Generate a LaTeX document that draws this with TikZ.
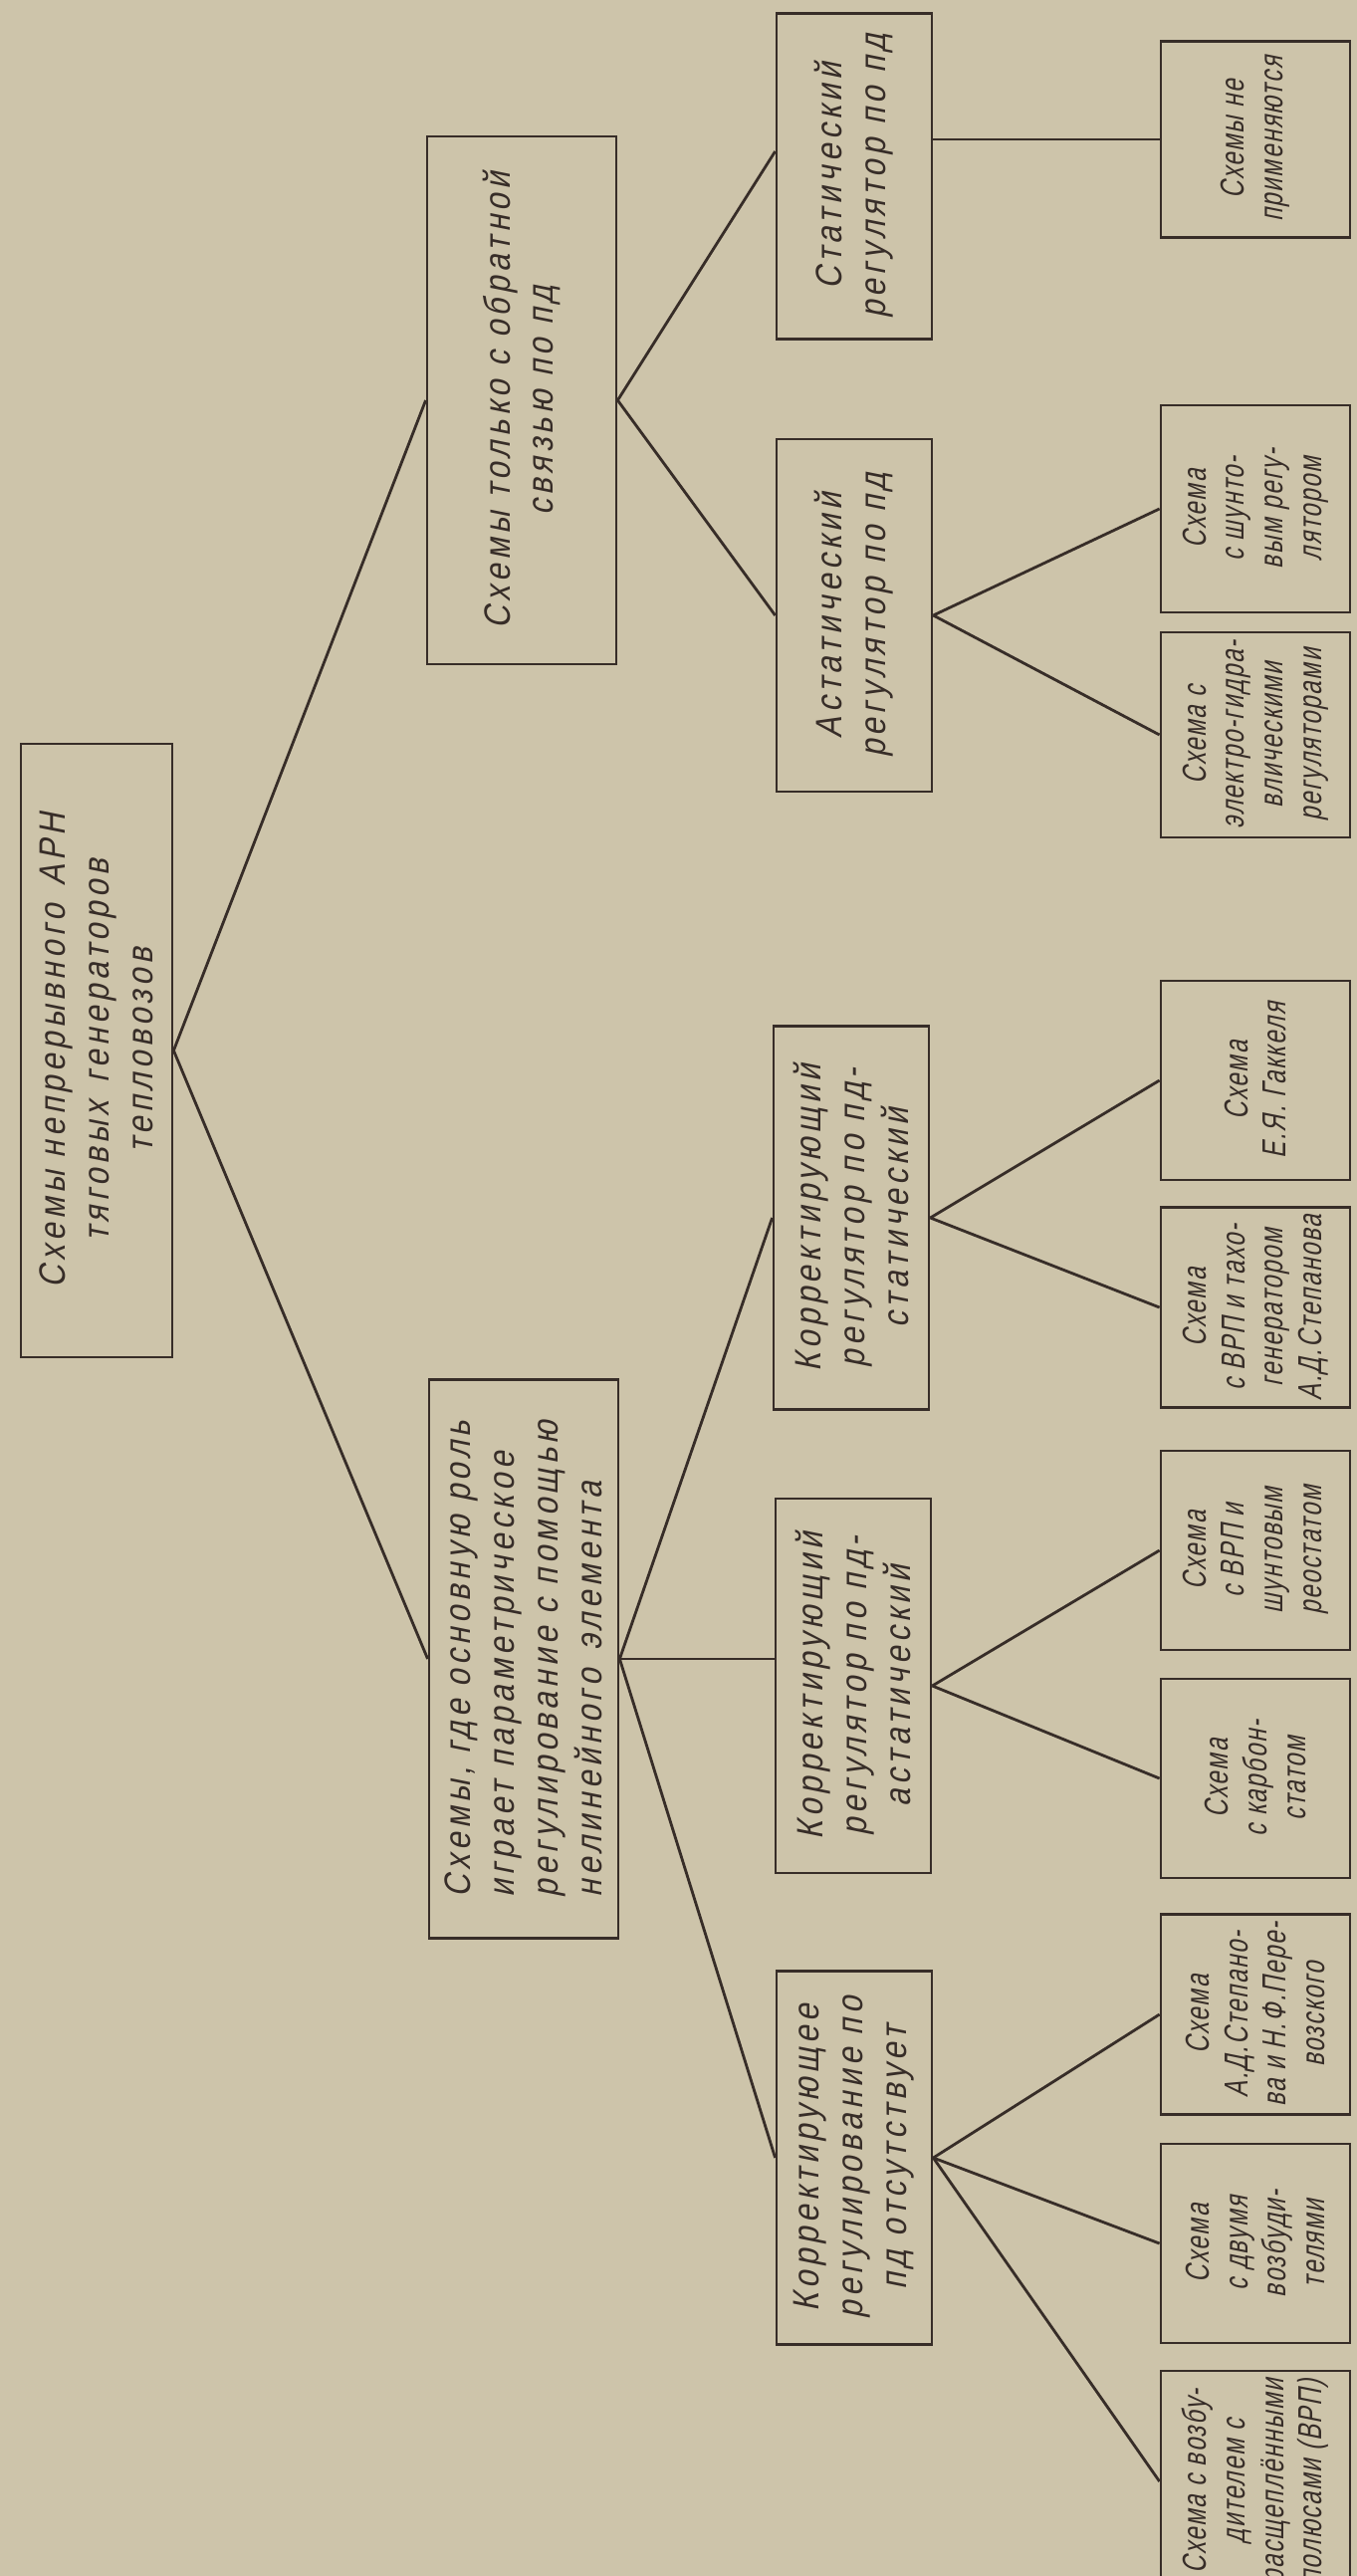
\documentclass[tikz,border=0pt]{standalone}
\usepackage{fontspec}
\newfontfamily\gost{Liberation Sans}[FakeSlant=0.2,FakeStretch=0.85,LetterSpace=12]
\newfontfamily\gostnarrow{Liberation Sans}[FakeSlant=0.2,FakeStretch=0.72,LetterSpace=5]
\definecolor{paper}{RGB}{205,196,170}
\definecolor{ink}{RGB}{55,45,40}

\begin{document}
\begin{tikzpicture}[
  box/.style={draw=ink,line width=0.8pt,rotate=90,align=center,inner sep=1pt,text=ink},
  big/.style={box,font=\gost\fontsize{10.5}{12.5}\selectfont,minimum height=1.9cm},
  mid/.style={box,font=\gost\fontsize{10.5}{12.5}\selectfont,minimum height=1.56cm},
  leaf/.style={box,font=\gostnarrow\fontsize{9.5}{11}\selectfont,minimum height=1.9cm,minimum width=2cm},
  link/.style={draw=ink,line width=0.8pt}]
\fill[paper] (0,0) rectangle (13.63,-25.87);
\path[use as bounding box] (0,0) rectangle (13.63,-25.87);
\clip (0,0) rectangle (13.63,-25.87);

\node[big,minimum height=1.52cm,minimum width=6.16cm] (arn) at (0.97,-10.55) {Схемы непрерывного\enspace АРН\\тяговых\enspace генераторов\\тепловозов};
\node[big,minimum width=5.30cm] (feedback) at (5.24,-4.02) {Схемы только с обратной\\связью по пд};
\node[big,minimum width=5.61cm,align=left] (param) at (5.26,-16.66) {Схемы, где основную роль\\играет параметрическое\\регулирование с помощью\\нелинейного\enspace элемента};

\node[mid,minimum width=3.27cm] (stat) at (8.58,-1.77) {Статический\\регулятор по пд};
\node[mid,minimum width=3.54cm] (astat) at (8.58,-6.18) {Астатический\\регулятор по пд};
\node[mid,minimum width=3.85cm] (kstat) at (8.55,-12.23) {Корректирующий\\регулятор по пд-\\статический};
\node[mid,minimum width=3.76cm] (kastat) at (8.57,-16.93) {Корректирующий\\регулятор по пд-\\астатический};
\node[mid,minimum width=3.75cm] (knone) at (8.58,-21.67) {Корректирующее\\регулирование по\\пд отсутствует};

\node[leaf,minimum width=1.97cm] (none) at (12.61,-1.40) {Схемы не\\применяются};
\node[leaf,minimum width=2.08cm] (shunt) at (12.61,-5.11) {Схема\\с шунто-\\вым регу-\\лятором};
\node[leaf,minimum width=2.06cm] (hydro) at (12.61,-7.38) {Схема с\\электро-гидра-\\влическими\\регуляторами};
\node[leaf] (gakkel) at (12.61,-10.85) {Схема\\Е.Я. Гаккеля};
\node[leaf,minimum width=2.01cm] (tacho) at (12.61,-13.13) {Схема\\с ВРП и тахо-\\генератором\\А.Д.Степанова};
\node[leaf] (rheo) at (12.61,-15.57) {Схема\\с ВРП и\\шунтовым\\реостатом};
\node[leaf] (carbon) at (12.61,-17.86) {Схема\\с карбон-\\статом};
\node[leaf,minimum width=2.01cm] (stepan) at (12.61,-20.23) {Схема\\А.Д.Степано-\\ва и Н.Ф.Пере-\\возского};
\node[leaf] (two) at (12.61,-22.53) {Схема\\с двумя\\возбуди-\\телями};
\node[leaf,minimum width=2.22cm] (split) at (12.61,-24.92) {Схема с возбу-\\дителем с\\расщеплёнными\\полюсами (ВРП)};

\draw[link] (arn.south) -- (feedback.north);
\draw[link] (arn.south) -- (param.north);
\draw[link] (feedback.south) -- ([yshift=0.25cm]stat.north);
\draw[link] (feedback.south) -- (astat.north);
\draw[link] (stat.south |- none.north) -- (none.north);
\draw[link] (astat.south) -- (shunt.north);
\draw[link] (astat.south) -- (hydro.north);
\draw[link] (param.south) -- (kstat.north);
\draw[link] (param.south) -- (param.south -| kastat.north);
\draw[link] (param.south) -- (knone.north);
\draw[link] (kstat.south) -- (gakkel.north);
\draw[link] (kstat.south) -- (tacho.north);
\draw[link] (kastat.south) -- (rheo.north);
\draw[link] (kastat.south) -- (carbon.north);
\draw[link] (knone.south) -- (stepan.north);
\draw[link] (knone.south) -- (two.north);
\draw[link] (knone.south) -- (split.north);
\end{tikzpicture}
\end{document}
